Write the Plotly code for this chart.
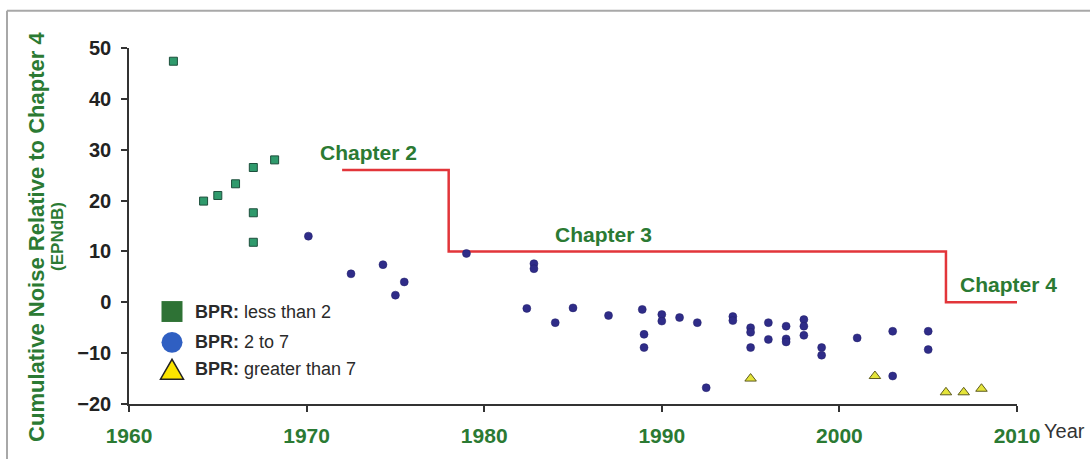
import plotly.graph_objects as go

# ---- data ----
sq_year = [1962.5, 1964.2, 1965.0, 1966.0, 1967.0, 1967.0, 1967.0, 1968.2]
sq_noise = [47.4, 19.9, 21.0, 23.3, 26.5, 17.6, 11.8, 28.0]

ci_year = [1970.1, 1972.5, 1974.3, 1975.0, 1975.5, 1979.0, 1982.8, 1982.8, 1982.4,
           1984.0, 1985.0, 1987.0, 1988.9, 1989.0, 1989.0, 1990.0, 1990.0, 1991.0,
           1992.0, 1992.5, 1994.0, 1994.0, 1995.0, 1995.0, 1995.0, 1996.0, 1996.0,
           1997.0, 1997.0, 1997.0, 1998.0, 1998.0, 1998.0, 1999.0, 1999.0, 2001.0,
           2003.0, 2003.0, 2005.0, 2005.0]
ci_noise = [13.0, 5.6, 7.4, 1.4, 4.0, 9.6, 7.6, 6.6, -1.2,
            -4.0, -1.1, -2.6, -1.4, -6.3, -8.9, -2.4, -3.7, -3.0,
            -4.0, -16.8, -2.8, -3.6, -5.0, -5.9, -8.9, -4.0, -7.3,
            -4.7, -7.2, -7.8, -3.4, -4.7, -6.5, -8.9, -10.4, -7.0,
            -5.7, -14.5, -5.7, -9.3]

tr_year = [1995.0, 2002.0, 2006.0, 2007.0, 2008.0]
tr_noise = [-15.0, -14.5, -17.7, -17.7, -17.0]

limit_year = [1972, 1978, 2006, 2010.4]
limit_value = [26, 10, 0, 0]

chapter_names = ["Chapter 2", "Chapter 3", "Chapter 4"]
chapter_label_x = [1973.5, 1986.7, 2009.5]
chapter_label_y = [29.5, 13.4, 3.5]

legend_labels = ["less than 2", "2 to 7", "greater than 7"]

x_ticks = [1960, 1970, 1980, 1990, 2000, 2010]
y_ticks = [-20, -10, 0, 10, 20, 30, 40, 50]

# ---- style ----
GREEN = "#2b7a33"
FONT = "Liberation Sans, Arial, sans-serif"
W, H = 1090, 459
ML, MR, MT, MB = 129, 73, 48, 53
PW, PH = W - ML - MR, H - MT - MB


def px(x):
    return (x - ML) / PW


def py(y):
    return 1 - (y - MT) / PH


fig = go.Figure()

fig.add_trace(go.Scatter(
    x=limit_year, y=limit_value, mode="lines", line_shape="hv",
    line=dict(color="#e2353a", width=2.5), showlegend=False, hoverinfo="skip"))

fig.add_trace(go.Scatter(
    x=sq_year, y=sq_noise, mode="markers", name="BPR: less than 2",
    marker=dict(symbol="square", size=8, color="#2f9a6c",
                line=dict(color="#1d4f3c", width=1)), showlegend=False))

fig.add_trace(go.Scatter(
    x=ci_year, y=ci_noise, mode="markers", name="BPR: 2 to 7",
    marker=dict(symbol="circle", size=8, color="#2f2c88",
                line=dict(color="#23206a", width=0.5)), showlegend=False))

fig.add_trace(go.Scatter(
    x=tr_year, y=tr_noise, mode="markers", name="BPR: greater than 7",
    marker=dict(symbol="triangle-up", size=10, color="#e4e43a",
                line=dict(color="#5c5a1e", width=1)), showlegend=False))

annotations = []
for name, xx, yy in zip(chapter_names, chapter_label_x, chapter_label_y):
    annotations.append(dict(x=xx, y=yy, xref="x", yref="y", text=name,
                            showarrow=False, xanchor="center", yanchor="middle",
                            font=dict(family=FONT, size=21, color=GREEN, weight="bold")))

# y-axis title (two lines)
annotations.append(dict(x=px(37), y=py(238), xref="paper", yref="paper",
                        text="<b>Cumulative Noise Relative to Chapter 4</b>", textangle=-90,
                        showarrow=False, xanchor="center", yanchor="middle",
                        font=dict(family=FONT, size=22, color=GREEN)))
annotations.append(dict(x=px(58), y=py(238), xref="paper", yref="paper",
                        text="<b>(EPNdB)</b>", textangle=-90,
                        showarrow=False, xanchor="center", yanchor="middle",
                        font=dict(family=FONT, size=17, color=GREEN)))
# x-axis "Year"
annotations.append(dict(x=px(1042), y=py(433), xref="paper", yref="paper",
                        text="Year", showarrow=False, xanchor="left", yanchor="middle",
                        font=dict(family=FONT, size=20, color="#333333")))

# custom legend
shapes = []
rows_y = [313, 344, 371]
mx = 172
shapes.append(dict(type="rect", xref="paper", yref="paper",
                   x0=px(mx - 10.5), x1=px(mx + 10.5), y0=py(rows_y[0] + 10.5), y1=py(rows_y[0] - 10.5),
                   fillcolor="#2e7235", line=dict(width=0)))
shapes.append(dict(type="circle", xref="paper", yref="paper",
                   x0=px(mx - 10.5), x1=px(mx + 10.5), y0=py(rows_y[1] + 10.5), y1=py(rows_y[1] - 10.5),
                   fillcolor="#2f5fc2", line=dict(width=0)))
ty = rows_y[2]
shapes.append(dict(type="path", xref="paper", yref="paper",
                   path=f"M {px(mx-11.5)} {py(ty+10)} L {px(mx+11.5)} {py(ty+10)} L {px(mx)} {py(ty-10)} Z",
                   fillcolor="#fbe400", line=dict(color="#222222", width=1.5)))
for lab, ry in zip(legend_labels, rows_y):
    annotations.append(dict(x=px(193), y=py(ry), xref="paper", yref="paper",
                            text=f"<b>BPR:</b> {lab}", showarrow=False,
                            xanchor="left", yanchor="middle",
                            font=dict(family=FONT, size=18, color="#2a2a2a")))

# frame
shapes.append(dict(type="line", xref="paper", yref="paper",
                   x0=px(7), x1=px(1095), y0=py(10.5), y1=py(10.5),
                   line=dict(color="#a8a8a8", width=2)))
shapes.append(dict(type="line", xref="paper", yref="paper",
                   x0=px(7), x1=px(7), y0=py(10.5), y1=py(470),
                   line=dict(color="#a8a8a8", width=2)))

fig.update_layout(
    width=W, height=H,
    margin=dict(l=ML, r=MR, t=MT, b=MB, pad=0),
    paper_bgcolor="white", plot_bgcolor="white",
    showlegend=False,
    annotations=annotations, shapes=shapes,
    xaxis=dict(range=[1960, 2010], tickvals=x_ticks, showgrid=False, zeroline=False,
               showline=True, linecolor="#333333", linewidth=1.5,
               ticks="outside", ticklen=6, tickcolor="#333333", tickwidth=1.5,
               ticklabelstandoff=6,
               tickfont=dict(family=FONT, size=21, color=GREEN, weight="bold")),
    yaxis=dict(range=[-20, 50], tickvals=y_ticks, showgrid=False, zeroline=False,
               showline=True, linecolor="#333333", linewidth=1.5,
               ticks="outside", ticklen=6, tickcolor="#333333", tickwidth=1.5,
               ticklabelstandoff=6,
               tickfont=dict(family=FONT, size=20, color="#222222", weight="bold")),
)

fig.write_html("out.html", config={"displayModeBar": False},
               post_script="document.body.style.margin='0px';")
